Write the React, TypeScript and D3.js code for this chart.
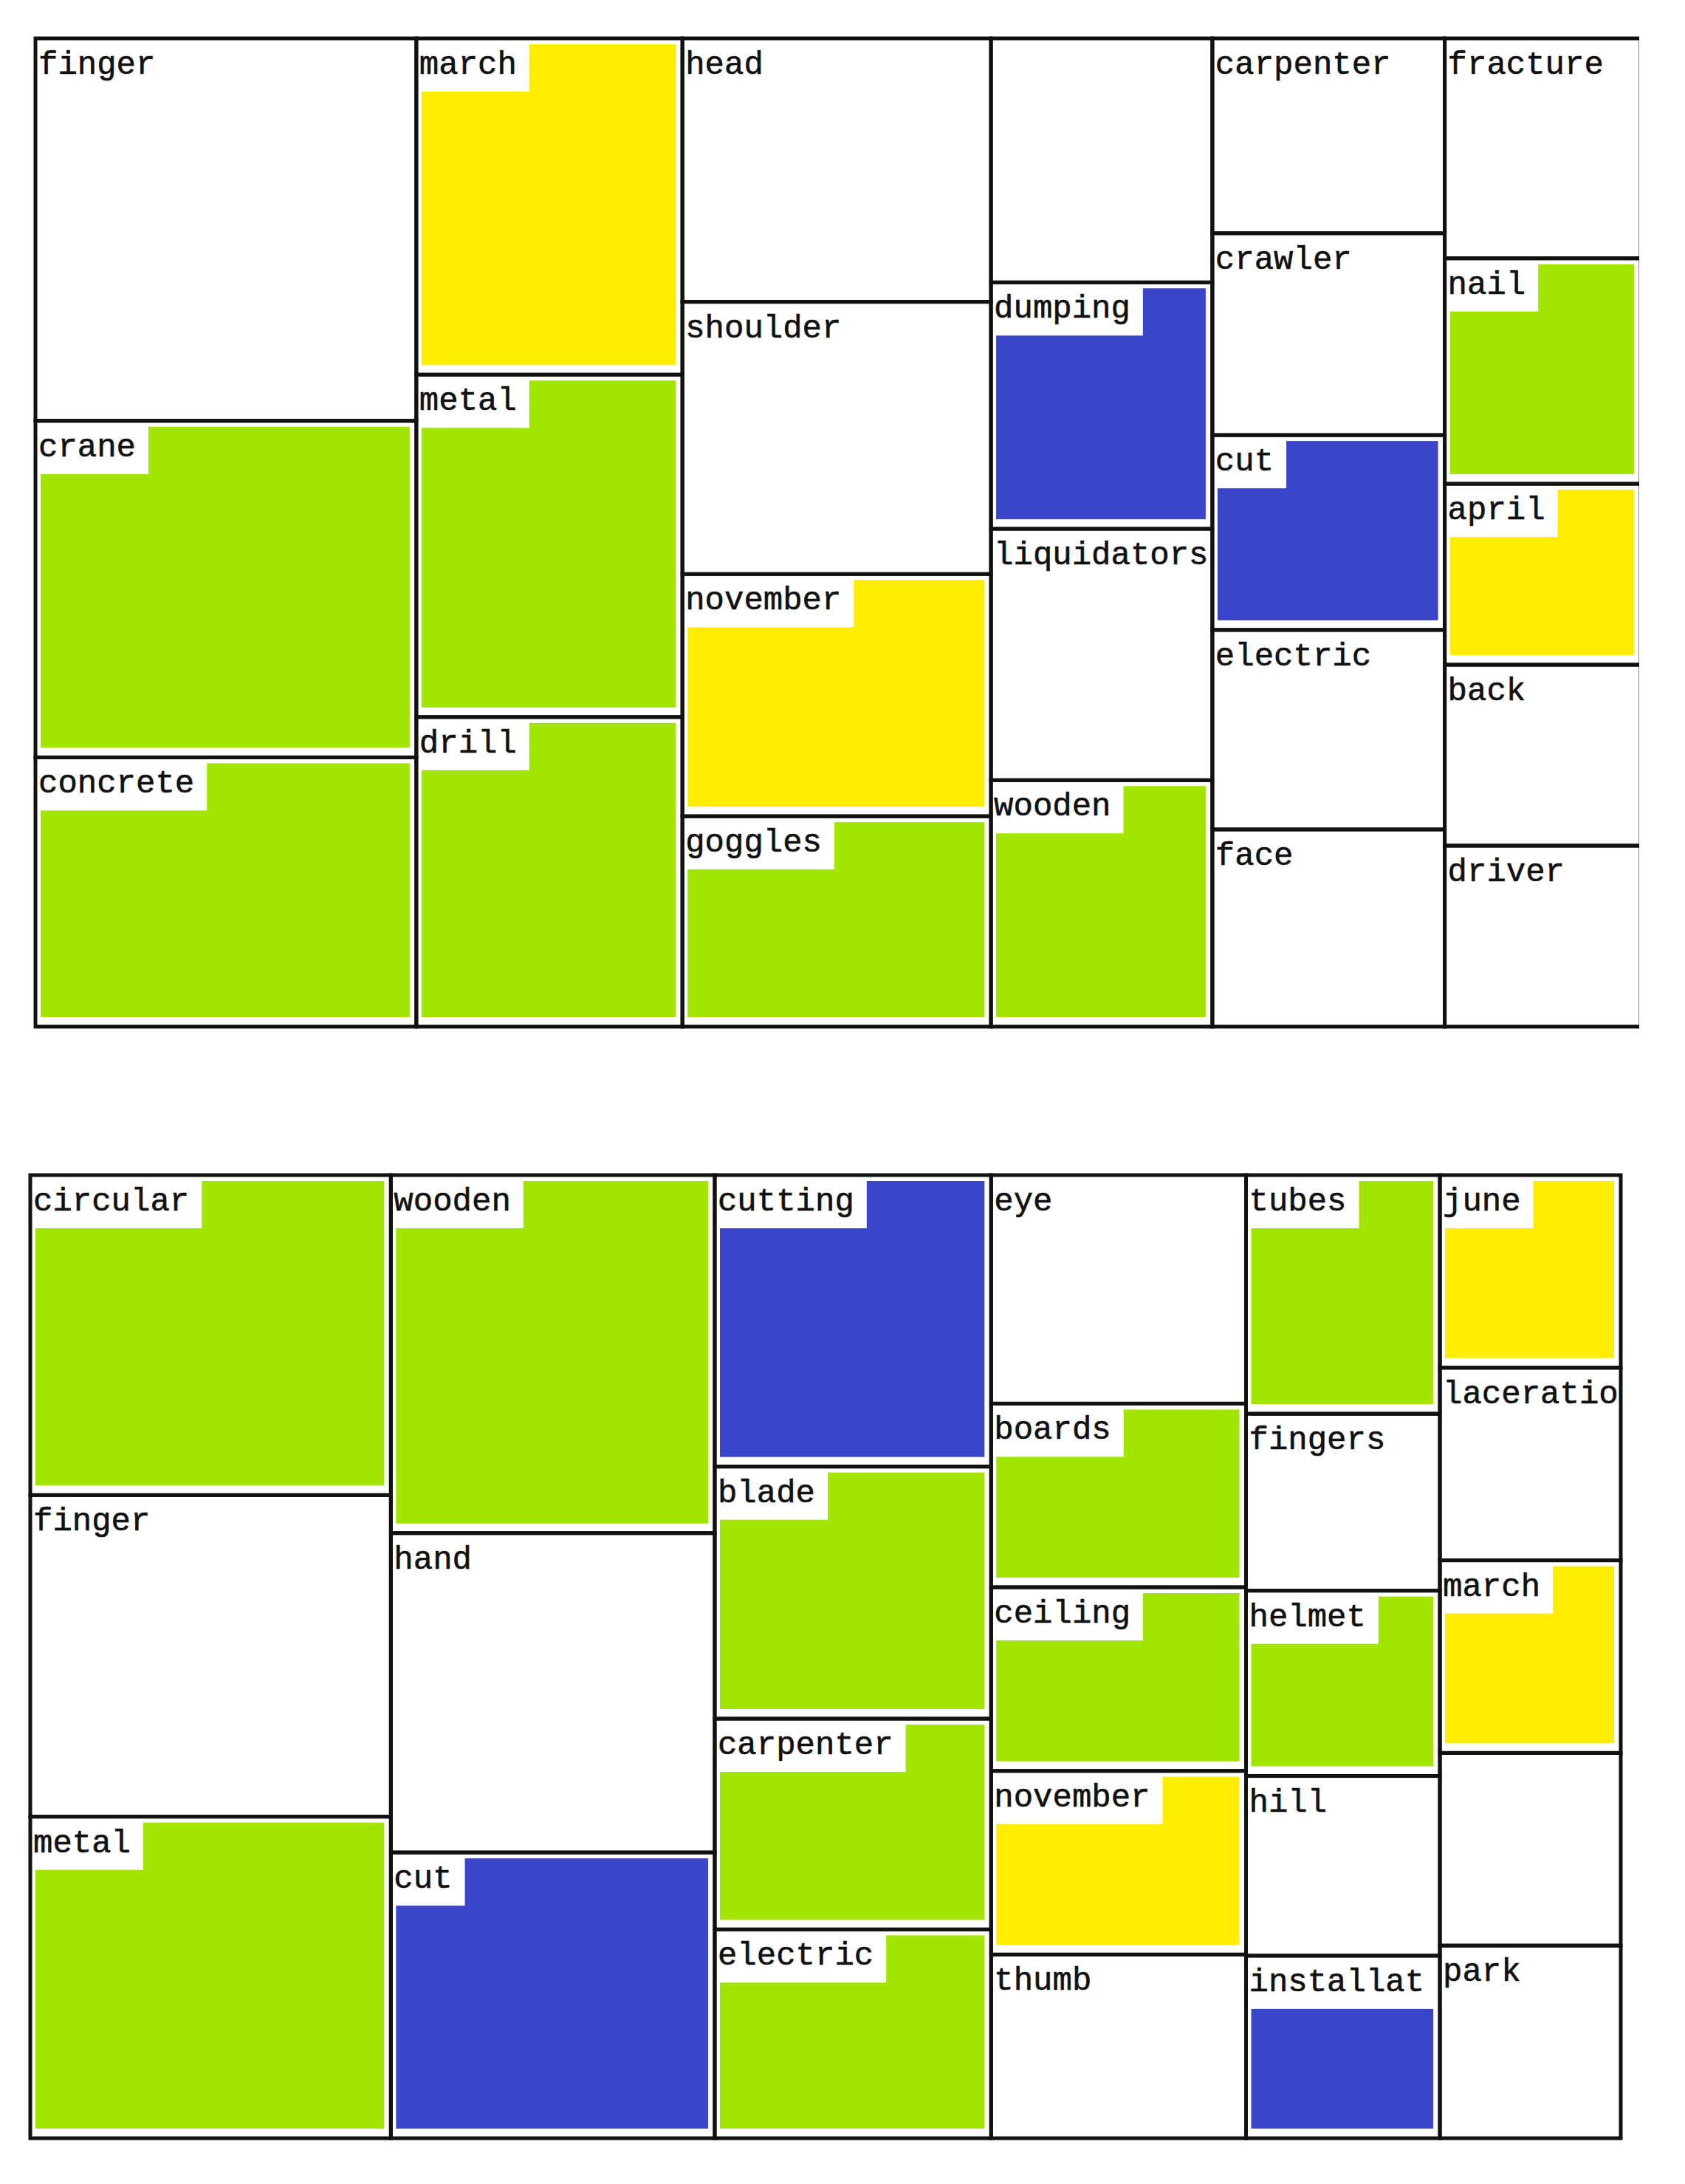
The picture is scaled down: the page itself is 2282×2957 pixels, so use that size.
import React, { useEffect } from "react";
import * as d3 from "d3";

// upper treemap: one list per column, cells from top to bottom
const topLabels = [
  ["finger", "crane", "concrete"],
  ["march", "metal", "drill"],
  ["head", "shoulder", "november", "goggles"],
  ["", "dumping", "liquidators", "wooden"],
  ["carpenter", "crawler", "cut", "electric", "face"],
  ["fracture", "nail", "april", "back", "driver"],
];
const topValues = [
  [267, 235, 188],
  [164, 167, 151],
  [149, 154, 137, 119],
  [99, 100, 102, 100],
  [83, 86, 83, 85, 84],
  [79, 81, 65, 65, 65],
];
const topKinds = [
  ["none", "green", "green"],
  ["yellow", "green", "green"],
  ["none", "none", "yellow", "green"],
  ["none", "blue", "none", "green"],
  ["none", "none", "blue", "none", "none"],
  ["none", "green", "yellow", "none", "none"],
];

// lower treemap
const bottomLabels = [
  ["circular", "finger", "metal"],
  ["wooden", "hand", "cut"],
  ["cutting", "blade", "carpenter", "electric"],
  ["eye", "boards", "ceiling", "november", "thumb"],
  ["tubes", "fingers", "helmet", "hill", "installation"],
  ["june", "laceration", "march", "", "park"],
];
const bottomValues = [
  [212, 213, 213],
  [213, 190, 170],
  [148, 128, 107, 106],
  [107, 86, 86, 86, 86],
  [85, 63, 66, 64, 65],
  [64, 64, 64, 64, 64],
];
const bottomKinds = [
  ["green", "none", "green"],
  ["green", "none", "blue"],
  ["blue", "green", "green", "green"],
  ["none", "green", "green", "yellow", "none"],
  ["green", "none", "green", "none", "blue"],
  ["yellow", "none", "yellow", "none", "none"],
];

const kindColor = d3
  .scaleOrdinal<string, string>()
  .domain(["none", "green", "yellow", "blue"])
  .range(["#ffffff", "#a2e500", "#ffec00", "#3a45c9"]);

const FONT = 44;
const CHAR_W = FONT * 0.6;

type Leaf = d3.HierarchyRectangularNode<any>;

function buildLeaves(labels: string[][], values: number[][], kinds: string[][], w: number, h: number): Leaf[] {
  const data = {
    name: "root",
    children: labels.map((col, i) => ({
      name: "col" + i,
      children: col.map((label, j) => ({ name: label, value: values[i][j], kind: kinds[i][j] })),
    })),
  };
  const root = d3.hierarchy<any>(data).sum((d) => d.value || 0);
  d3.treemap<any>().tile(d3.treemapSliceDice).size([w, h]).round(false)(root);
  return (root as Leaf).leaves();
}

// labels that run past the cell are cut at the border, like the original
const fitLabel = (name: string, cw: number) => name.slice(0, Math.floor((cw - 4) / CHAR_W));

const Treemap = ({ id, x, y, w, h, labels, values, kinds, cutRight }) => {
  const leaves = buildLeaves(labels, values, kinds, w, h);
  return (
    <g transform={`translate(${x},${y})`}>
      <defs>
        <clipPath id={`${id}-all`}>
          <rect x={-10} y={-10} width={cutRight ? w - 2 + 10 : w + 20} height={h + 20} />
        </clipPath>
      </defs>
      <g clipPath={`url(#${id}-all)`}>
        {leaves.map((d, i) => {
          const cw = d.x1 - d.x0;
          const ch = d.y1 - d.y0;
          const kind = d.data.kind;
          const label = fitLabel(d.data.name, cw);
          const tw = label.length * CHAR_W;
          return (
            <g key={i}>
              <rect x={d.x0} y={d.y0} width={cw} height={ch} fill="#fff" />
              {kind !== "none" && (
                <>
                  <rect x={d.x0 + 7} y={d.y0 + 8} width={cw - 16} height={ch - 21} fill={kindColor(kind)} />
                  <rect x={d.x0 + 3} y={d.y0 + 3} width={Math.min(tw + 18, cw - 6)} height={69} fill="#fff" />
                </>
              )}
              <text
                x={d.x0 + 4}
                y={d.y0 + 48}
                fontFamily="'Liberation Mono', 'DejaVu Sans Mono', monospace"
                fontSize={FONT}
                fill="#111"
                stroke="#111"
                strokeWidth={0.6}
              >
                {label}
              </text>
            </g>
          );
        })}
        {leaves.map((d, i) => (
          <rect
            key={"b" + i}
            x={d.x0}
            y={d.y0}
            width={d.x1 - d.x0}
            height={d.y1 - d.y0}
            fill="none"
            stroke="#111"
            strokeWidth={5}
          />
        ))}
      </g>
    </g>
  );
};

export default function App() {
  useEffect(() => {
    document.body.style.margin = "0";
  }, []);
  return (
    <svg width={2282} height={2957} style={{ display: "block", background: "#fff" }}>
      <Treemap
        id="top"
        x={48}
        y={52}
        w={2174}
        h={1338}
        labels={topLabels}
        values={topValues}
        kinds={topKinds}
        cutRight={true}
      />
      <Treemap
        id="bottom"
        x={41}
        y={1591}
        w={2154}
        h={1304}
        labels={bottomLabels}
        values={bottomValues}
        kinds={bottomKinds}
        cutRight={false}
      />
    </svg>
  );
}
